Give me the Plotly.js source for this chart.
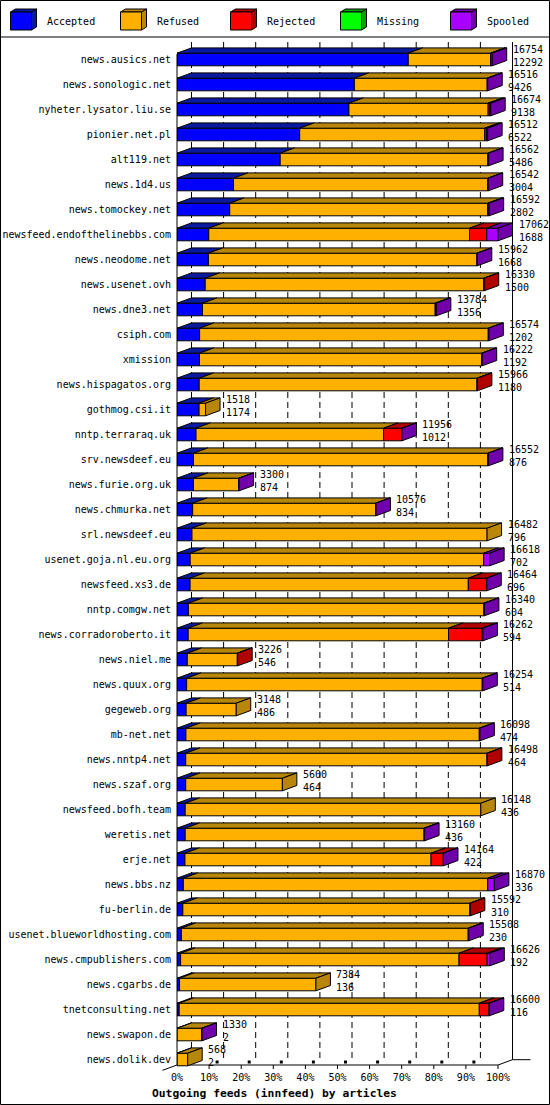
<!DOCTYPE html>
<html><head><meta charset="utf-8">
<script src="https://cdn.plot.ly/plotly-3.0.1.min.js"></script>
<style>html,body{margin:0;padding:0;background:#fff}</style>
</head><body><div id="chart" style="width:550px;height:1105px"></div>
<script>
// ---- data ----
const hosts = ['news.ausics.net','news.sonologic.net','nyheter.lysator.liu.se','pionier.net.pl','alt119.net','news.1d4.us','news.tomockey.net','newsfeed.endofthelinebbs.com','news.neodome.net','news.usenet.ovh','news.dne3.net','csiph.com','xmission','news.hispagatos.org','gothmog.csi.it','nntp.terraraq.uk','srv.newsdeef.eu','news.furie.org.uk','news.chmurka.net','srl.newsdeef.eu','usenet.goja.nl.eu.org','newsfeed.xs3.de','nntp.comgw.net','news.corradoroberto.it','news.niel.me','news.quux.org','gegeweb.org','mb-net.net','news.nntp4.net','news.szaf.org','newsfeed.bofh.team','weretis.net','erje.net','news.bbs.nz','fu-berlin.de','usenet.blueworldhosting.com','news.cmpublishers.com','news.cgarbs.de','tnetconsulting.net','news.swapon.de','news.dolik.dev'];
const totals   = [16754,16516,16674,16512,16562,16542,16592,17062,15962,16330,13784,16574,16222,15966,1518,11956,16552,3300,10576,16482,16618,16464,16340,16262,3226,16254,3148,16098,16498,5600,16148,13160,14164,16870,15592,15508,16626,7384,16600,1330,568];
const accepted = [12292,9426,9138,6522,5486,3004,2802,1688,1668,1500,1356,1202,1192,1180,1174,1012,876,874,834,796,702,696,604,594,546,514,486,474,464,464,436,436,422,336,310,230,192,136,116,2,2];
const refused  = [4380,7060,7400,9830,11033,13516,13717,13864,14274,14810,12368,15342,15000,14766,344,9971,15646,2411,9722,15686,15599,14788,15706,13840,2660,15710,2662,15594,16014,5136,15712,12694,13082,16180,15262,15248,14800,7248,15952,1323,566];
const rejected = [4,0,93,93,0,0,20,914,0,20,15,0,0,20,0,970,0,0,0,0,0,970,0,1772,20,0,0,0,20,0,0,0,650,0,20,0,1492,0,522,0,0];
const missing  = [0,0,0,0,0,0,0,0,0,0,0,0,0,0,0,0,0,0,0,0,0,0,0,0,0,0,0,0,0,0,0,0,0,0,0,0,0,0,0,0,0];
const spooled  = [78,30,43,67,43,22,53,596,20,0,45,30,30,0,0,3,30,15,20,0,317,10,30,56,0,30,0,30,0,0,0,30,10,354,0,30,142,0,10,5,0];
const seriesNames = ['Accepted','Refused','Rejected','Missing','Spooled'];
const tickLabels = ['0%','10%','20%','30%','40%','50%','60%','70%','80%','90%','100%'];
const chartTitle = 'Outgoing feeds (innfeed) by articles';

// ---- style ----
const frontColors = ['#0000ff','#ffb000','#ff0000','#00ff00','#aa00ff'];
const darkColors  = ['#0a1aa0','#b8860b','#b00000','#00a000','#7000aa'];
const FONT = 'DejaVu Sans Mono, Liberation Mono, monospace';

const W=550, H=1105, plotL=177, plotR=540, plotT=40, plotB=1070;
const floorPx=1065, pitch=25, row0px=59.5;
const series = [accepted, refused, rejected, missing, spooled];
const maxTotal = Math.max(...totals);
const pxPerUnit = 321/maxTotal;
const xmax = (plotR-plotL)/pxPerUnit;
const yTop = -(row0px-plotT)/pitch;
const yBot = yTop + (plotB-plotT)/pitch;
const pxToY = py => yTop + (py-plotT)/pitch;
const halfH = 6.3/pitch, dY = 5.3/pitch, dX = 14.5/pxPerUnit;
const toPX = px => (px-plotL)/(plotR-plotL);
const toPY = py => (plotB-py)/(plotB-plotT);

const traces = [];
// back grid
const tickVals = tickLabels.map((t,i)=>i*maxTotal/10);
const gx=[], gy=[];
const yBackTop = pxToY(42), yBackFloor = pxToY(floorPx-5.3), yFloor = pxToY(floorPx);
tickVals.slice(0,10).forEach(v=>{gx.push(v+dX,v+dX,null); gy.push(yBackTop,yBackFloor,null);});
traces.push({type:'scatter',mode:'lines',x:gx,y:gy,line:{color:'#000',width:1,dash:'6px,4px'},hoverinfo:'skip',showlegend:false});
// right wall + floor
traces.push({type:'scatter',mode:'lines',
  x:[maxTotal+dX,maxTotal+dX,null,0,maxTotal,maxTotal+dX,maxTotal+dX+18/pxPerUnit],
  y:[yBackTop,yBackFloor,null,yFloor,yFloor,yBackFloor,yBackFloor],
  line:{color:'#000',width:1},hoverinfo:'skip',showlegend:false});
// floor ticks
const tkx=[], tky=[], sqx=[], sqy=[];
tickVals.forEach((v,i)=>{ if(i>0){ tkx.push(v,v,null); tky.push(yFloor,pxToY(floorPx+4),null);} if(i>0&&i<10){sqx.push(v+8/pxPerUnit); sqy.push(pxToY(floorPx-3));}});
traces.push({type:'scatter',mode:'lines',x:tkx,y:tky,line:{color:'#000',width:1},hoverinfo:'skip',showlegend:false});
traces.push({type:'scatter',mode:'markers',x:sqx,y:sqy,marker:{symbol:'square',size:3,color:'#000'},hoverinfo:'skip',showlegend:false});

// bars
const F = series.map(()=>({x:[],y:[]})), T = series.map(()=>({x:[],y:[]})), S = series.map(()=>({x:[],y:[]}));
hosts.forEach((h,i)=>{
  let last=-1; series.forEach((s,k)=>{ if(s[i]>0) last=k; });
  let cum=0;
  series.forEach((s,k)=>{
    const v=s[i]; if(!(v>0)) return;
    const x0=cum, x1=cum+v; cum=x1;
    const yb=i+halfH, yt=i-halfH;
    F[k].x.push(x0,x1,x1,x0,x0,null); F[k].y.push(yb,yb,yt,yt,yb,null);
    T[k].x.push(x0,x1,x1+dX,x0+dX,x0,null); T[k].y.push(yt,yt,yt-dY,yt-dY,yt,null);
    if(k===last){ S[k].x.push(x1,x1+dX,x1+dX,x1,x1,null); S[k].y.push(yb,yb-dY,yt-dY,yt,yb,null); }
  });
});
series.forEach((s,k)=>{
  [[F[k],frontColors[k]],[T[k],darkColors[k]],[S[k],darkColors[k]]].forEach(([p,c])=>{
    if(p.x.length) traces.push({type:'scatter',mode:'lines',x:p.x,y:p.y,fill:'toself',fillcolor:c,
      line:{color:'#000',width:1},connectgaps:false,hoverinfo:'skip',showlegend:false,name:seriesNames[k]});
  });
});

// value labels
const annotations = hosts.map((h,i)=>({x:totals[i]+dX,y:i,xref:'x',yref:'y',xanchor:'left',yanchor:'middle',
  xshift:4,yshift:4,showarrow:false,align:'left',text:totals[i]+'<br>'+accepted[i],
  font:{family:FONT,size:10,color:'#000'}}));
annotations.push({xref:'paper',yref:'paper',x:toPX(274.5),y:toPY(1093),xanchor:'center',yanchor:'middle',showarrow:false,
  text:'<b>'+chartTitle+'</b>',font:{family:FONT,size:11.3,color:'#000'}});

// legend + frame shapes
const shapes = [];
const line = (x0,y0,x1,y1)=>({type:'line',xref:'paper',yref:'paper',x0:toPX(x0),y0:toPY(y0),x1:toPX(x1),y1:toPY(y1),line:{color:'#000',width:1}});
shapes.push({type:'rect',xref:'paper',yref:'paper',x0:toPX(0.5),y0:toPY(0.5),x1:toPX(549.5),y1:toPY(1104.5),line:{color:'#000',width:1},fillcolor:'rgba(0,0,0,0)'});
shapes.push(line(0,37,550,37));
shapes.push(line(plotL,54,plotL,floorPx));
shapes.push(line(plotL-14.5,floorPx+5.3,plotL,floorPx));
const path = pts => 'M '+pts.map(p=>toPX(p[0])+','+toPY(p[1])).join(' L ')+' Z';
seriesNames.forEach((n,k)=>{
  const x0=10.5+110*k, y0=12, w=21, hh=18, ddx=5, ddy=3;
  shapes.push({type:'path',xref:'paper',yref:'paper',path:path([[x0,y0],[x0+w,y0],[x0+w+ddx,y0-ddy],[x0+ddx,y0-ddy]]),fillcolor:darkColors[k],line:{color:'#000',width:1}});
  shapes.push({type:'path',xref:'paper',yref:'paper',path:path([[x0+w,y0],[x0+w+ddx,y0-ddy],[x0+w+ddx,y0+hh-ddy],[x0+w,y0+hh]]),fillcolor:darkColors[k],line:{color:'#000',width:1}});
  shapes.push({type:'rect',xref:'paper',yref:'paper',x0:toPX(x0),y0:toPY(y0),x1:toPX(x0+w),y1:toPY(y0+hh),fillcolor:frontColors[k],line:{color:'#000',width:1}});
  annotations.push({xref:'paper',yref:'paper',x:toPX(x0+34),y:toPY(21),xanchor:'left',yanchor:'middle',showarrow:false,
    text:n,font:{family:FONT,size:10,color:'#000'}});
});

const layout = {
  width:W,height:H,margin:{l:plotL,r:W-plotR,t:plotT,b:H-plotB,pad:0},
  paper_bgcolor:'#fff',plot_bgcolor:'#fff',showlegend:false,
  xaxis:{range:[0,xmax],tickvals:tickVals,ticktext:tickLabels,showgrid:false,zeroline:false,showline:false,ticks:'',
    tickfont:{family:FONT,size:10,color:'#000'},automargin:false,fixedrange:true},
  yaxis:{range:[yBot,yTop],tickvals:hosts.map((h,i)=>i),ticktext:hosts,showgrid:false,zeroline:false,showline:false,
    ticks:'outside',ticklen:3,tickcolor:'rgba(0,0,0,0)',tickfont:{family:FONT,size:10,color:'#000'},automargin:false,fixedrange:true},
  shapes:shapes,annotations:annotations
};
Plotly.newPlot('chart',traces,layout,{displayModeBar:false,staticPlot:true});
</script></body></html>
